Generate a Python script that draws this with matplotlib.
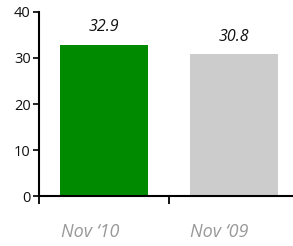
import numpy as np
import matplotlib.pyplot as plt

categories = ["Nov \u201810", "Nov \u201809"]
values = [32.9, 30.8]
bar_colors = ["#008a00", "#cccccc"]
y_ticks = [0, 10, 20, 30, 40]

plt.rcParams['font.family'] = ['Open Sans', 'DejaVu Sans']

fig = plt.figure(figsize=(2.93, 2.46), dpi=100)
ax = fig.add_axes([39 / 293, 1 - 196 / 246, 1 - 39 / 293, (196 - 12) / 246])

x = np.arange(len(categories))
bars = ax.bar(x, values, width=0.68, color=bar_colors)

for xi, v in zip(x, values):
    ax.text(xi, v + 2.0, f"{v:.1f}", ha='center', va='bottom',
            fontsize=11.5, style='italic', color='#111111')

ax.set_xlim(-0.5, 1.454)
ax.set_ylim(0, 40)
ax.set_yticks(y_ticks)
ax.tick_params(axis='y', length=4, width=1.3, labelsize=10.5, pad=2, colors='#111111')

# ticks sit at category boundaries, labels centred under bars
ax.set_xticks([-0.5, 0.5])
ax.set_xticklabels([])
ax.tick_params(axis='x', direction='out', length=6, width=1.3)
for xi, c in zip(x, categories):
    ax.text(xi - 0.11, -7.8, c, ha='center', va='center', fontsize=13,
            style='italic', color='#999999')

for s in ['top', 'right']:
    ax.spines[s].set_visible(False)
ax.spines['left'].set_linewidth(1.5)
ax.spines['bottom'].set_linewidth(1.5)

fig.savefig("out.png", dpi=100)
